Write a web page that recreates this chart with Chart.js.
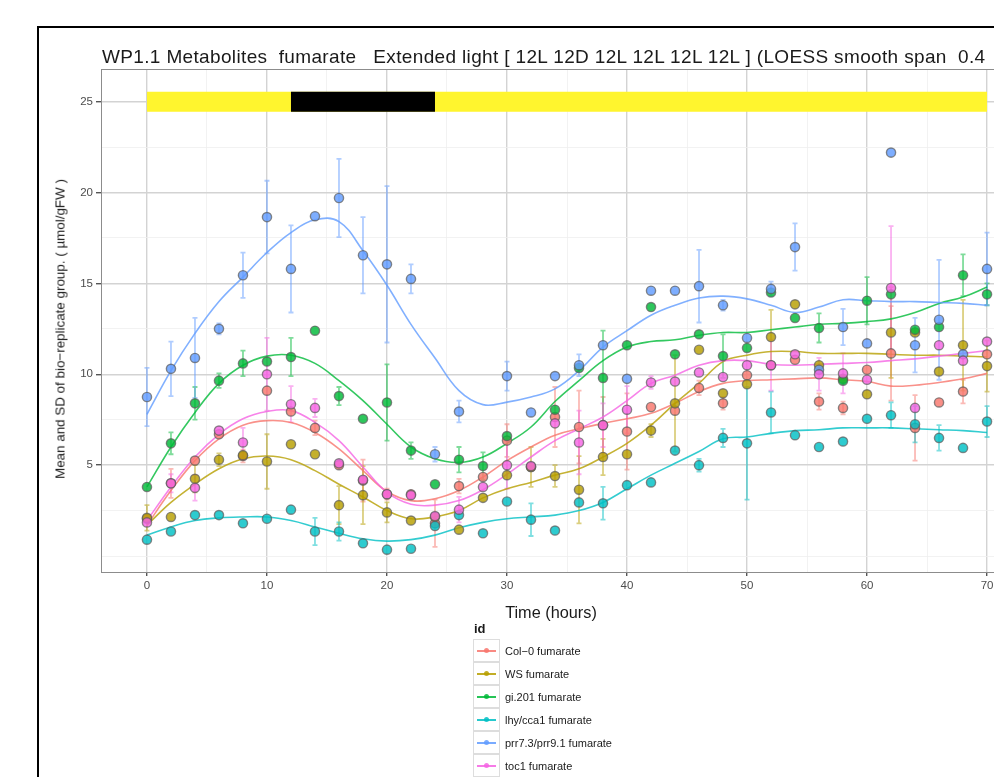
<!DOCTYPE html>
<html>
<head>
<meta charset="utf-8">
<script src="https://cdn.jsdelivr.net/npm/chart.js@4.4.1/dist/chart.umd.min.js"></script>
<style>
    body { margin: 0; background: #fff; overflow: hidden; font-family: "Liberation Sans", Arial, sans-serif; }
    #page { position: relative; width: 994px; height: 777px; overflow: hidden; }
    #frame { position: absolute; left: 37px; top: 26px; width: 1100px; height: 900px; border-left: 2px solid #000; border-top: 2px solid #000; }
    #chart { position: absolute; left: 0; top: 0; }
    #title { position: absolute; left: 102px; top: 46px; font-size: 19px; letter-spacing: 0.35px; white-space: pre; color: #1a1a1a; }
    #ytitle { position: absolute; left: 60px; top: 329px; transform: translate(-50%, -50%) rotate(-90deg); font-size: 13.4px; white-space: nowrap; color: #1a1a1a; }
    #xtitle { position: absolute; left: 551px; top: 612px; transform: translate(-50%, -50%); font-size: 16.3px; color: #1a1a1a; }
    #legend { position: absolute; left: 473px; top: 621px; font-size: 11px; color: #1a1a1a; }
    #legend .head { font-weight: bold; font-size: 13px; margin: 0 0 3px 1px; }
    #legend .row { display: flex; align-items: center; height: 23px; }
    #legend .key { position: relative; width: 25px; height: 21px; border: 1px solid #ddd; background: #fff; }
    #legend .key .ln { position: absolute; left: 3px; right: 3px; top: 10px; height: 1.5px; opacity: 0.85; }
    #legend .key .dot { position: absolute; left: 10px; top: 8px; width: 5px; height: 5px; border-radius: 50%; opacity: 0.85; }
    #legend .lab { margin-left: 5px; }
</style>
</head>
<body>
<div id="page">
    <div id="frame"></div>
    <canvas id="chart" width="1050" height="777"></canvas>
    <div id="title">WP1.1 Metabolites  fumarate   Extended light [ 12L 12D 12L 12L 12L 12L ] (LOESS smooth span  0.4</div>
    <div id="ytitle">Mean and SD of bio−replicate group. ( µmol/gFW )</div>
    <div id="xtitle">Time (hours)</div>
    <div id="legend"><div class="head">id</div></div>
</div>
<script>
// time points (hours)
const times = [0, 2, 4, 6, 8, 10, 12, 14, 16, 18, 20, 22, 24, 26, 28, 30, 32, 34,
    36, 38, 40, 42, 44, 46, 48, 50, 52, 54, 56, 58, 60, 62, 64, 66, 68, 70];
const xTicks = [0, 5, 10, 15, 20, 25, 30, 35, 40, 45, 50, 55, 60, 65, 70];
const yTicks = [0, 2.5, 5, 7.5, 10, 12.5, 15, 17.5, 20, 22.5, 25];

// light regime bar
const lightSpan = [0, 70];
const darkSpan = [12, 24];
const lightLevel = 25;

// Col-0
const col0Mean = [2.05, 4.0, 5.25, 6.7, 5.5, 9.1, 7.95, 7.05, 5.0, 4.15, 3.4, 3.4, 1.8, 3.85, 4.35, 6.35, 4.9, 7.65,
    7.1, 7.2, 6.85, 8.2, 8.0, 9.25, 8.4, 9.95, 10.5, 10.8, 8.5, 8.15, 10.25, 11.15, 7.05, 8.45, 9.05, 11.1];
const col0Sd = [null, 0.8, null, null, 0.35, null, null, 0.4, null, 1.15, 0.3, null, 1.3, 0.4, null, 0.9, null, 1.65,
    2.0, 1.55, 2.1, null, null, 0.4, 0.35, null, null, null, 0.45, 0.35, null, 2.6, 1.8, null, 0.65, null];
const col0Smooth = [1.7, 3.6, 5.25, 6.45, 7.2, 7.45, 7.35, 6.8, 5.9, 4.7, 3.55, 3.05, 3.15, 3.6, 4.35, 5.25, 6.0, 6.65,
    7.0, 7.3, 7.55, 7.85, 8.4, 9.05, 9.5, 9.65, 9.7, 9.75, 9.8, 9.7, 9.6, 9.35, 9.4, 9.55, 9.75, 10.05];

// WS
const wsMean = [2.1, 2.15, 4.25, 5.3, 5.55, 5.2, 6.15, 5.6, 2.8, 3.35, 2.4, 1.95, 2.15, 1.45, 3.2, 4.45, 4.9, 4.4,
    3.65, 5.45, 5.6, 6.9, 8.4, 11.35, 8.95, 9.45, 12.05, 13.85, 10.5, 9.75, 8.9, 12.3, 12.3, 10.15, 11.6, 10.45];
const wsSd = [0.7, null, 0.75, 0.35, null, 1.5, null, null, 1.05, 1.6, 0.55, null, null, null, null, null, 1.1, 0.6,
    1.85, 1.0, null, 0.35, 2.65, null, null, null, 1.5, null, null, null, null, 2.5, null, null, 2.5, 1.4];
const wsSmooth = [1.7, 2.95, 3.95, 4.8, 5.35, 5.5, 5.3, 4.7, 3.95, 3.25, 2.5, 2.05, 2.15, 2.5, 3.2, 3.7, 4.05, 4.45,
    4.8, 5.45, 6.2, 7.2, 8.4, 9.5, 10.7, 11.05, 11.25, 11.25, 11.15, 11.15, 11.15, 11.1, 11.05, 11.05, 11.0, 10.95];

// gi.201
const giMean = [3.8, 6.2, 8.4, 9.65, 10.6, 10.7, 10.95, 12.4, 8.8, 7.55, 8.45, 5.8, 3.95, 5.3, 4.95, 6.6, null, 8.05,
    10.35, 9.8, 11.6, 13.7, 11.1, 12.2, 11.0, 11.45, 14.5, 13.1, 12.55, 9.65, 14.05, 14.4, 12.45, 12.6, 15.45, 14.4];
const giSd = [null, 0.6, 0.9, 0.4, 0.7, null, 1.05, null, 0.5, null, 2.1, 0.45, null, 0.7, 0.75, null, null, null,
    null, 2.6, null, null, null, null, 1.2, null, null, null, 0.8, null, 1.3, null, null, null, 1.15, 0.6];
const giSmooth = [3.8, 6.0, 7.9, 9.5, 10.5, 11.0, 11.05, 10.6, 9.65, 8.55, 7.25, 6.0, 5.35, 5.15, 5.45, 6.2, 7.1, 8.5,
    9.65, 10.75, 11.5, 11.8, 11.9, 12.15, 12.3, 12.3, 12.45, 12.6, 12.75, 12.8, 12.9, 13.05, 13.4, 13.9, 14.25, 14.8];

// lhy/cca1
const lhyMean = [0.9, 1.35, 2.25, 2.25, 1.8, 2.05, 2.55, 1.35, 1.35, 0.7, 0.35, 0.4, 1.65, 2.25, 1.25, 3.0, 2.0, 1.4,
    2.95, 2.9, 3.9, 4.05, 5.8, 5.0, 6.5, 6.2, 7.9, 6.65, 6.0, 6.3, 7.55, 7.75, 7.25, 6.5, 5.95, 7.4];
const lhySd = [null, null, null, null, null, null, null, 0.75, 0.5, null, null, null, null, null, null, null, 0.9, null,
    null, 0.9, null, null, null, 0.35, 0.5, 3.1, 1.15, null, null, null, null, 0.7, 1.0, 0.7, null, 0.85];
const lhySmooth = [1.15, 1.6, 1.95, 2.1, 2.15, 2.15, 1.95, 1.6, 1.25, 0.95, 0.82, 0.9, 1.15, 1.55, 1.85, 2.05, 2.15, 2.25,
    2.5, 2.95, 3.7, 4.45, 5.1, 5.75, 6.45, 6.55, 6.75, 6.9, 6.95, 7.05, 7.05, 7.05, 7.0, 6.95, 6.9, 6.8];

// prr7.3/prr9.1
const prrMean = [8.75, 10.3, 10.9, 12.5, 15.45, 18.65, 15.8, 18.7, 19.7, 16.55, 16.05, 15.25, 5.6, 7.95, null, 9.9, 7.9, 9.9,
    10.5, 11.6, 9.75, 14.6, 14.6, 14.85, 13.8, 12.0, 14.7, 17.0, 10.25, 12.6, 11.7, 22.2, 11.6, 13.0, 11.1, 15.8];
const prrSd = [1.6, 1.5, 2.2, 0.3, 1.25, 2.0, 2.4, null, 2.15, 2.1, 4.3, 0.8, 0.4, 0.6, null, 0.8, null, null,
    0.6, null, null, null, null, 2.0, 0.3, null, 0.4, 1.3, null, 1.0, null, null, 1.5, 3.3, null, 2.0];
const prrSmooth = [7.8, 10.2, 12.25, 14.0, 15.35, 16.7, 17.8, 18.5, 18.4, 16.8, 14.9, 12.75, 10.9, 9.1, 8.33, 8.47, 8.75, 9.2,
    10.2, 11.5, 12.4, 13.25, 13.8, 14.2, 14.3, 14.15, 13.8, 13.4, 13.7, 14.1, 14.05, 14.0, 14.0, 13.95, 13.9, 13.8];

// toc1
const tocMean = [1.85, 4.0, 3.75, 6.9, 6.25, 10.0, 8.35, 8.15, 5.1, 4.2, 3.4, 3.35, 2.2, 2.55, 3.8, 5.0, 4.95, 7.3,
    6.25, 7.2, 8.05, 9.55, 9.6, 10.1, 9.85, 10.5, 10.5, 11.1, 10.0, 10.05, 9.7, 14.75, 8.15, 11.6, 10.75, 11.8];
const tocSd = [null, 0.5, 0.7, null, 0.8, 2.0, 1.0, 0.5, null, null, null, null, null, 0.7, null, 1.3, null, null,
    1.75, 1.2, 1.3, 0.35, null, null, null, null, 1.4, null, 0.9, 1.1, null, 3.4, null, null, null, null];
const tocSmooth = [1.95, 3.8, 5.45, 6.7, 7.55, 7.95, 8.0, 7.35, 6.35, 4.9, 3.5, 2.85, 2.8, 3.05, 3.65, 4.5, 5.45, 6.35,
    7.0, 7.65, 8.55, 9.5, 9.95, 10.5, 10.75, 10.75, 10.55, 10.5, 10.55, 10.6, 10.65, 10.75, 10.85, 11.0, 11.15, 11.3];

const series = [
    { label: 'Col−0 fumarate', color: '#F8766D', mean: col0Mean, sd: col0Sd, smooth: col0Smooth },
    { label: 'WS fumarate', color: '#B79F00', mean: wsMean, sd: wsSd, smooth: wsSmooth },
    { label: 'gi.201 fumarate', color: '#00BA38', mean: giMean, sd: giSd, smooth: giSmooth },
    { label: 'lhy/cca1 fumarate', color: '#00BFC4', mean: lhyMean, sd: lhySd, smooth: lhySmooth },
    { label: 'prr7.3/prr9.1 fumarate', color: '#619CFF', mean: prrMean, sd: prrSd, smooth: prrSmooth },
    { label: 'toc1 fumarate', color: '#F564E3', mean: tocMean, sd: tocSd, smooth: tocSmooth }
];

const toPoints = (vals) => times.map((t, i) => ({ x: t, y: vals[i] })).filter(p => p.y !== null);

function withAlpha(hex, a) {
    const n = parseInt(hex.slice(1), 16);
    return `rgba(${n >> 16}, ${(n >> 8) & 255}, ${n & 255}, ${a})`;
}

// error bars drawn through the chart scales
const errorBars = {
    id: 'errorBars',
    beforeDatasetsDraw(chart) {
        const { ctx, chartArea, scales: { x, y } } = chart;
        ctx.save();
        ctx.beginPath();
        ctx.rect(chartArea.left, chartArea.top, chartArea.width, chartArea.height);
        ctx.clip();
        ctx.lineWidth = 1.8;
        series.forEach(s => {
            ctx.strokeStyle = withAlpha(s.color, 0.5);
            s.mean.forEach((m, i) => {
                const sd = s.sd[i];
                if (m === null || sd === null) return;
                const px = x.getPixelForValue(times[i]);
                const top = y.getPixelForValue(m + sd);
                const bot = y.getPixelForValue(m - sd);
                ctx.beginPath();
                ctx.moveTo(px - 2.5, top); ctx.lineTo(px + 2.5, top);
                ctx.moveTo(px, top); ctx.lineTo(px, bot);
                ctx.moveTo(px - 2.5, bot); ctx.lineTo(px + 2.5, bot);
                ctx.stroke();
            });
        });
        ctx.restore();
    }
};

// panel border on top
const panelBorder = {
    id: 'panelBorder',
    afterDraw(chart) {
        const { ctx, chartArea } = chart;
        ctx.save();
        ctx.strokeStyle = '#8c8c8c';
        ctx.lineWidth = 1;
        ctx.strokeRect(chartArea.left + 0.5, chartArea.top + 0.5, chartArea.width, chartArea.height);
        ctx.restore();
    }
};

const datasets = [];
datasets.push({
    type: 'line', data: [{ x: lightSpan[0], y: lightLevel }, { x: lightSpan[1], y: lightLevel }],
    borderColor: '#FFF52E', borderWidth: 20, borderCapStyle: 'butt', pointRadius: 0, order: 60
});
datasets.push({
    type: 'line', data: [{ x: darkSpan[0], y: lightLevel }, { x: darkSpan[1], y: lightLevel }],
    borderColor: '#000', borderWidth: 20, borderCapStyle: 'butt', pointRadius: 0, order: 59
});
series.forEach((s, k) => {
    datasets.push({
        type: 'line', label: s.label + ' loess', data: toPoints(s.smooth),
        borderColor: withAlpha(s.color, 0.8), borderWidth: 1.6, pointRadius: 0, tension: 0.4, fill: false,
        order: 40 - k
    });
    datasets.push({
        type: 'line', label: s.label, data: toPoints(s.mean), showLine: false,
        pointRadius: 4.6, pointBackgroundColor: withAlpha(s.color, 0.82), pointBorderColor: 'rgba(90,90,90,0.7)',
        pointBorderWidth: 1.4, order: 20 - k
    });
});

const tickFont = { family: '"Liberation Sans", Arial, sans-serif', size: 11.5 };

new Chart(document.getElementById('chart'), {
    type: 'line',
    data: { datasets },
    options: {
        responsive: false,
        animation: false,
        layout: { padding: { left: 45, top: 69, right: 17, bottom: 0 } },
        plugins: { legend: { display: false }, tooltip: { enabled: false }, title: { display: false } },
        scales: {
            x: {
                type: 'linear', min: -3.83, max: 73.83,
                afterBuildTicks: (scale) => { scale.ticks = xTicks.map(v => ({ value: v })); },
                afterFit: (scale) => { scale.height = 205; },
                border: { display: false },
                grid: {
                    color: (c) => (c.tick && c.tick.value % 10 === 0) ? '#d3d3d3' : '#efefef',
                    lineWidth: (c) => (c.tick && c.tick.value % 10 === 0) ? 1.4 : 0.8,
                    tickColor: (c) => (c.tick && c.tick.value % 10 === 0) ? '#555' : 'rgba(0,0,0,0)',
                    tickLength: 4
                },
                ticks: {
                    autoSkip: false, maxRotation: 0, padding: 3, color: '#4d4d4d', font: tickFont,
                    callback: (v) => v % 10 === 0 ? String(v) : ''
                }
            },
            y: {
                type: 'linear', min: -0.88, max: 26.8,
                afterBuildTicks: (scale) => { scale.ticks = yTicks.map(v => ({ value: v })); },
                afterFit: (scale) => { scale.width = 56; },
                border: { display: false },
                grid: {
                    color: (c) => (c.tick && c.tick.value % 5 === 0 && c.tick.value > 0) ? '#d3d3d3' : '#efefef',
                    lineWidth: (c) => (c.tick && c.tick.value % 5 === 0 && c.tick.value > 0) ? 1.4 : 0.8,
                    tickColor: (c) => (c.tick && c.tick.value % 5 === 0 && c.tick.value > 0) ? '#555' : 'rgba(0,0,0,0)',
                    tickLength: 5
                },
                ticks: {
                    autoSkip: false, padding: 3, color: '#4d4d4d', font: tickFont,
                    callback: (v) => (v % 5 === 0 && v > 0) ? String(v) : ''
                }
            }
        }
    },
    plugins: [errorBars, panelBorder]
});

// legend
const legend = document.getElementById('legend');
series.forEach(s => {
    const row = document.createElement('div');
    row.className = 'row';
    row.innerHTML = `
        <div class="key"><div class="ln" style="background:${s.color}"></div><div class="dot" style="background:${s.color}"></div></div>
        <div class="lab">${s.label}</div>`;
    legend.appendChild(row);
});
</script>
</body>
</html>
